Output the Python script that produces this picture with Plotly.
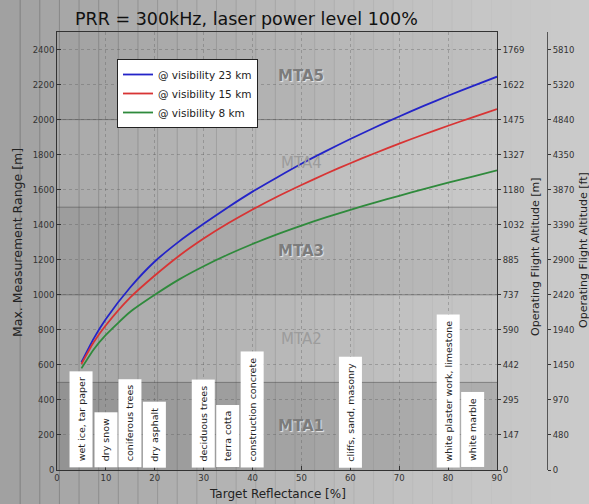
import plotly.graph_objects as go

# ---------------- data ----------------
reflectance = [5, 7.5, 10, 15, 20, 25, 30, 35, 40, 45, 50, 55, 60, 65, 70, 75, 80, 85, 90]
range_23km = [615, 750, 862, 1043, 1190, 1305, 1405, 1500, 1589, 1670, 1748, 1820, 1889,
              1955, 2018, 2078, 2136, 2191, 2245]
range_15km = [605, 729, 826, 985, 1110, 1223, 1321, 1408, 1487, 1560, 1627, 1691, 1751,
              1808, 1863, 1915, 1965, 2013, 2060]
range_8km = [580, 688, 771, 903, 1000, 1088, 1163, 1230, 1290, 1345, 1395, 1442, 1485,
             1526, 1565, 1603, 1640, 1675, 1710]

series_names = ["@ visibility 23 km", "@ visibility 15 km", "@ visibility 8 km"]

x_ticks = [0, 10, 20, 30, 40, 50, 60, 70, 80, 90]
y_ticks = [0, 200, 400, 600, 800, 1000, 1200, 1400, 1600, 1800, 2000, 2200, 2400]
alt_m_labels = ["0", "147", "295", "442", "590", "737", "885", "1032", "1180",
                "1327", "1475", "1622", "1769"]
alt_ft_labels = ["0", "480", "970", "1450", "1940", "2420", "2900", "3390", "3870",
                 "4350", "4840", "5320", "5810"]

material_x = [5, 10, 15, 20, 30, 35, 40, 60, 80, 85]
material_names = ["wet ice, tar paper", "dry snow", "coniferous trees", "dry asphalt",
                  "deciduous trees", "terra cotta", "construction concrete",
                  "cliffs, sand, masonry", "white plaster work, limestone", "white marble"]

mta_names = ["MTA1", "MTA2", "MTA3", "MTA4", "MTA5"]
mta_bounds = [0, 500, 1000, 1500, 2000, 2500]

# ---------------- figure ----------------
FONT = "DejaVu Sans"
W, H = 589, 504
ML, MR, MT, MB = 57, 2, 32, 34
PW = W - ML - MR
PH = H - MT - MB
xr = (497 - ML) / PW  # x-domain right edge


def px_x(p):
    return (p - ML) / PW


def px_y(p):
    return (H - MB - p) / PH


fig = go.Figure()
colors = ["#2424c8", "#d83434", "#2f8a3c"]
for ys, name, c in zip([range_23km, range_15km, range_8km], series_names, colors):
    fig.add_trace(go.Scatter(x=reflectance, y=ys, mode="lines", name=name,
                             line=dict(color=c, width=1.8, shape="spline", smoothing=0.6),
                             hoverinfo="skip"))

# dummy traces so the twin axes are drawn
fig.add_trace(go.Scatter(x=[None], y=[None], yaxis="y2", showlegend=False, hoverinfo="skip"))
fig.add_trace(go.Scatter(x=[None], y=[None], yaxis="y3", showlegend=False, hoverinfo="skip"))

shapes = []
# soft horizontal lighting gradient (photo look)
n = 30
x0p, x1p = px_x(0), px_x(W)
for i in range(n):
    a = 0.20 * (1 - i / (n - 1)) ** 1.3
    shapes.append(dict(type="rect", xref="paper", yref="paper",
                       x0=x0p + (x1p - x0p) * i / n, x1=x0p + (x1p - x0p) * (i + 1) / n + 0.002,
                       y0=px_y(H), y1=px_y(0), line=dict(width=0),
                       fillcolor=f"rgba(0,0,0,{a:.3f})", layer="below"))
# MTA bands
band_alpha = [0.16, 0.02, 0.09, 0.0, 0.05]
for i in range(5):
    shapes.append(dict(type="rect", xref="x", yref="y", x0=0, x1=90,
                       y0=mta_bounds[i], y1=mta_bounds[i + 1], line=dict(width=0),
                       fillcolor=f"rgba(40,40,40,{band_alpha[i]})", layer="below"))
for b in mta_bounds[1:-1]:
    shapes.append(dict(type="line", xref="x", yref="y", x0=0, x1=90, y0=b, y1=b,
                       line=dict(color="rgba(70,70,70,0.5)", width=1), layer="below"))

annotations = []
# MTA labels
for i, nm in enumerate(mta_names):
    ymid = (mta_bounds[i] + mta_bounds[i + 1]) / 2
    strong = i % 2 == 0
    annotations.append(dict(x=50, y=ymid, xref="x", yref="y", text=nm, showarrow=False,
                            font=dict(family=FONT, size=15,
                                      color="#7c7c7c" if strong else "#9c9c9c",
                                      weight="bold" if strong else "normal",
                                      shadow="1px 1px 1px #e8e8e8" if strong else "none")))
# material labels
for mx, mn in zip(material_x, material_names):
    annotations.append(dict(x=mx, y=12, xref="x", yref="y", text=mn, showarrow=False,
                            textangle=-90, xanchor="center", yanchor="bottom",
                            bgcolor="white", borderpad=5.5,
                            font=dict(family=FONT, size=9.5, color="#222")))
# title and axis titles
annotations.append(dict(x=px_x(246), y=px_y(19), xref="paper", yref="paper",
                        text="PRR = 300kHz, laser power level 100%", showarrow=False,
                        xanchor="center", yanchor="middle",
                        font=dict(family=FONT, size=17.5, color="#111")))
annotations.append(dict(x=px_x(17), y=px_y(243), xref="paper", yref="paper",
                        text="Max. Measurement Range [m]", showarrow=False, textangle=-90,
                        xanchor="center", yanchor="middle",
                        font=dict(family=FONT, size=12.5, color="#222")))
annotations.append(dict(x=px_x(277), y=px_y(494), xref="paper", yref="paper",
                        text="Target Reflectance [%]", showarrow=False,
                        xanchor="center", yanchor="middle",
                        font=dict(family=FONT, size=12, color="#222")))
annotations.append(dict(x=px_x(535), y=px_y(257), xref="paper", yref="paper",
                        text="Operating Flight Altitude [m]", showarrow=False, textangle=-90,
                        xanchor="center", yanchor="middle",
                        font=dict(family=FONT, size=11, color="#222")))
annotations.append(dict(x=px_x(583), y=px_y(250), xref="paper", yref="paper",
                        text="Operating Flight Altitude [ft]", showarrow=False, textangle=-90,
                        xanchor="center", yanchor="middle",
                        font=dict(family=FONT, size=11, color="#222")))

tickfont = dict(family=FONT, size=8.5, color="#333")
grid = dict(showgrid=True, gridcolor="rgba(80,80,80,0.32)", griddash="dot", gridwidth=1)

fig.update_layout(
    width=W, height=H,
    margin=dict(l=ML, r=MR, t=MT, b=MB, autoexpand=False),
    paper_bgcolor="#cacaca", plot_bgcolor="#cdcdcd",
    showlegend=True,
    legend=dict(x=px_x(117), y=px_y(59), xanchor="left", yanchor="top",
                bgcolor="white", bordercolor="#222", borderwidth=1,
                font=dict(family=FONT, size=10.5, color="#222"),
                itemwidth=30, tracegroupgap=0),
    xaxis=dict(domain=[0, xr], range=[0, 90], tickvals=x_ticks, ticks="inside", ticklen=4,
               tickcolor="#333", showline=True, linecolor="#333", linewidth=1, mirror=True,
               tickfont=tickfont, zeroline=False, **grid),
    yaxis=dict(range=[0, 2500], tickvals=y_ticks, ticks="inside", ticklen=4, tickcolor="#333",
               showline=True, linecolor="#333", linewidth=1, mirror=True,
               tickfont=tickfont, zeroline=False, **grid),
    yaxis2=dict(overlaying="y", side="right", anchor="x", range=[0, 2500], tickvals=y_ticks,
                ticktext=alt_m_labels, ticks="outside", ticklen=3, tickcolor="#333",
                showgrid=False, zeroline=False, tickfont=tickfont),
    yaxis3=dict(overlaying="y", side="right", anchor="free", position=px_x(547),
                range=[0, 2500], tickvals=y_ticks, ticktext=alt_ft_labels, ticks="outside",
                ticklen=3, tickcolor="#333", showline=True, linecolor="#555", linewidth=1,
                showgrid=False, zeroline=False, tickfont=tickfont),
    shapes=shapes, annotations=annotations,
    font=dict(family=FONT),
)

fig.write_html("out.html")
